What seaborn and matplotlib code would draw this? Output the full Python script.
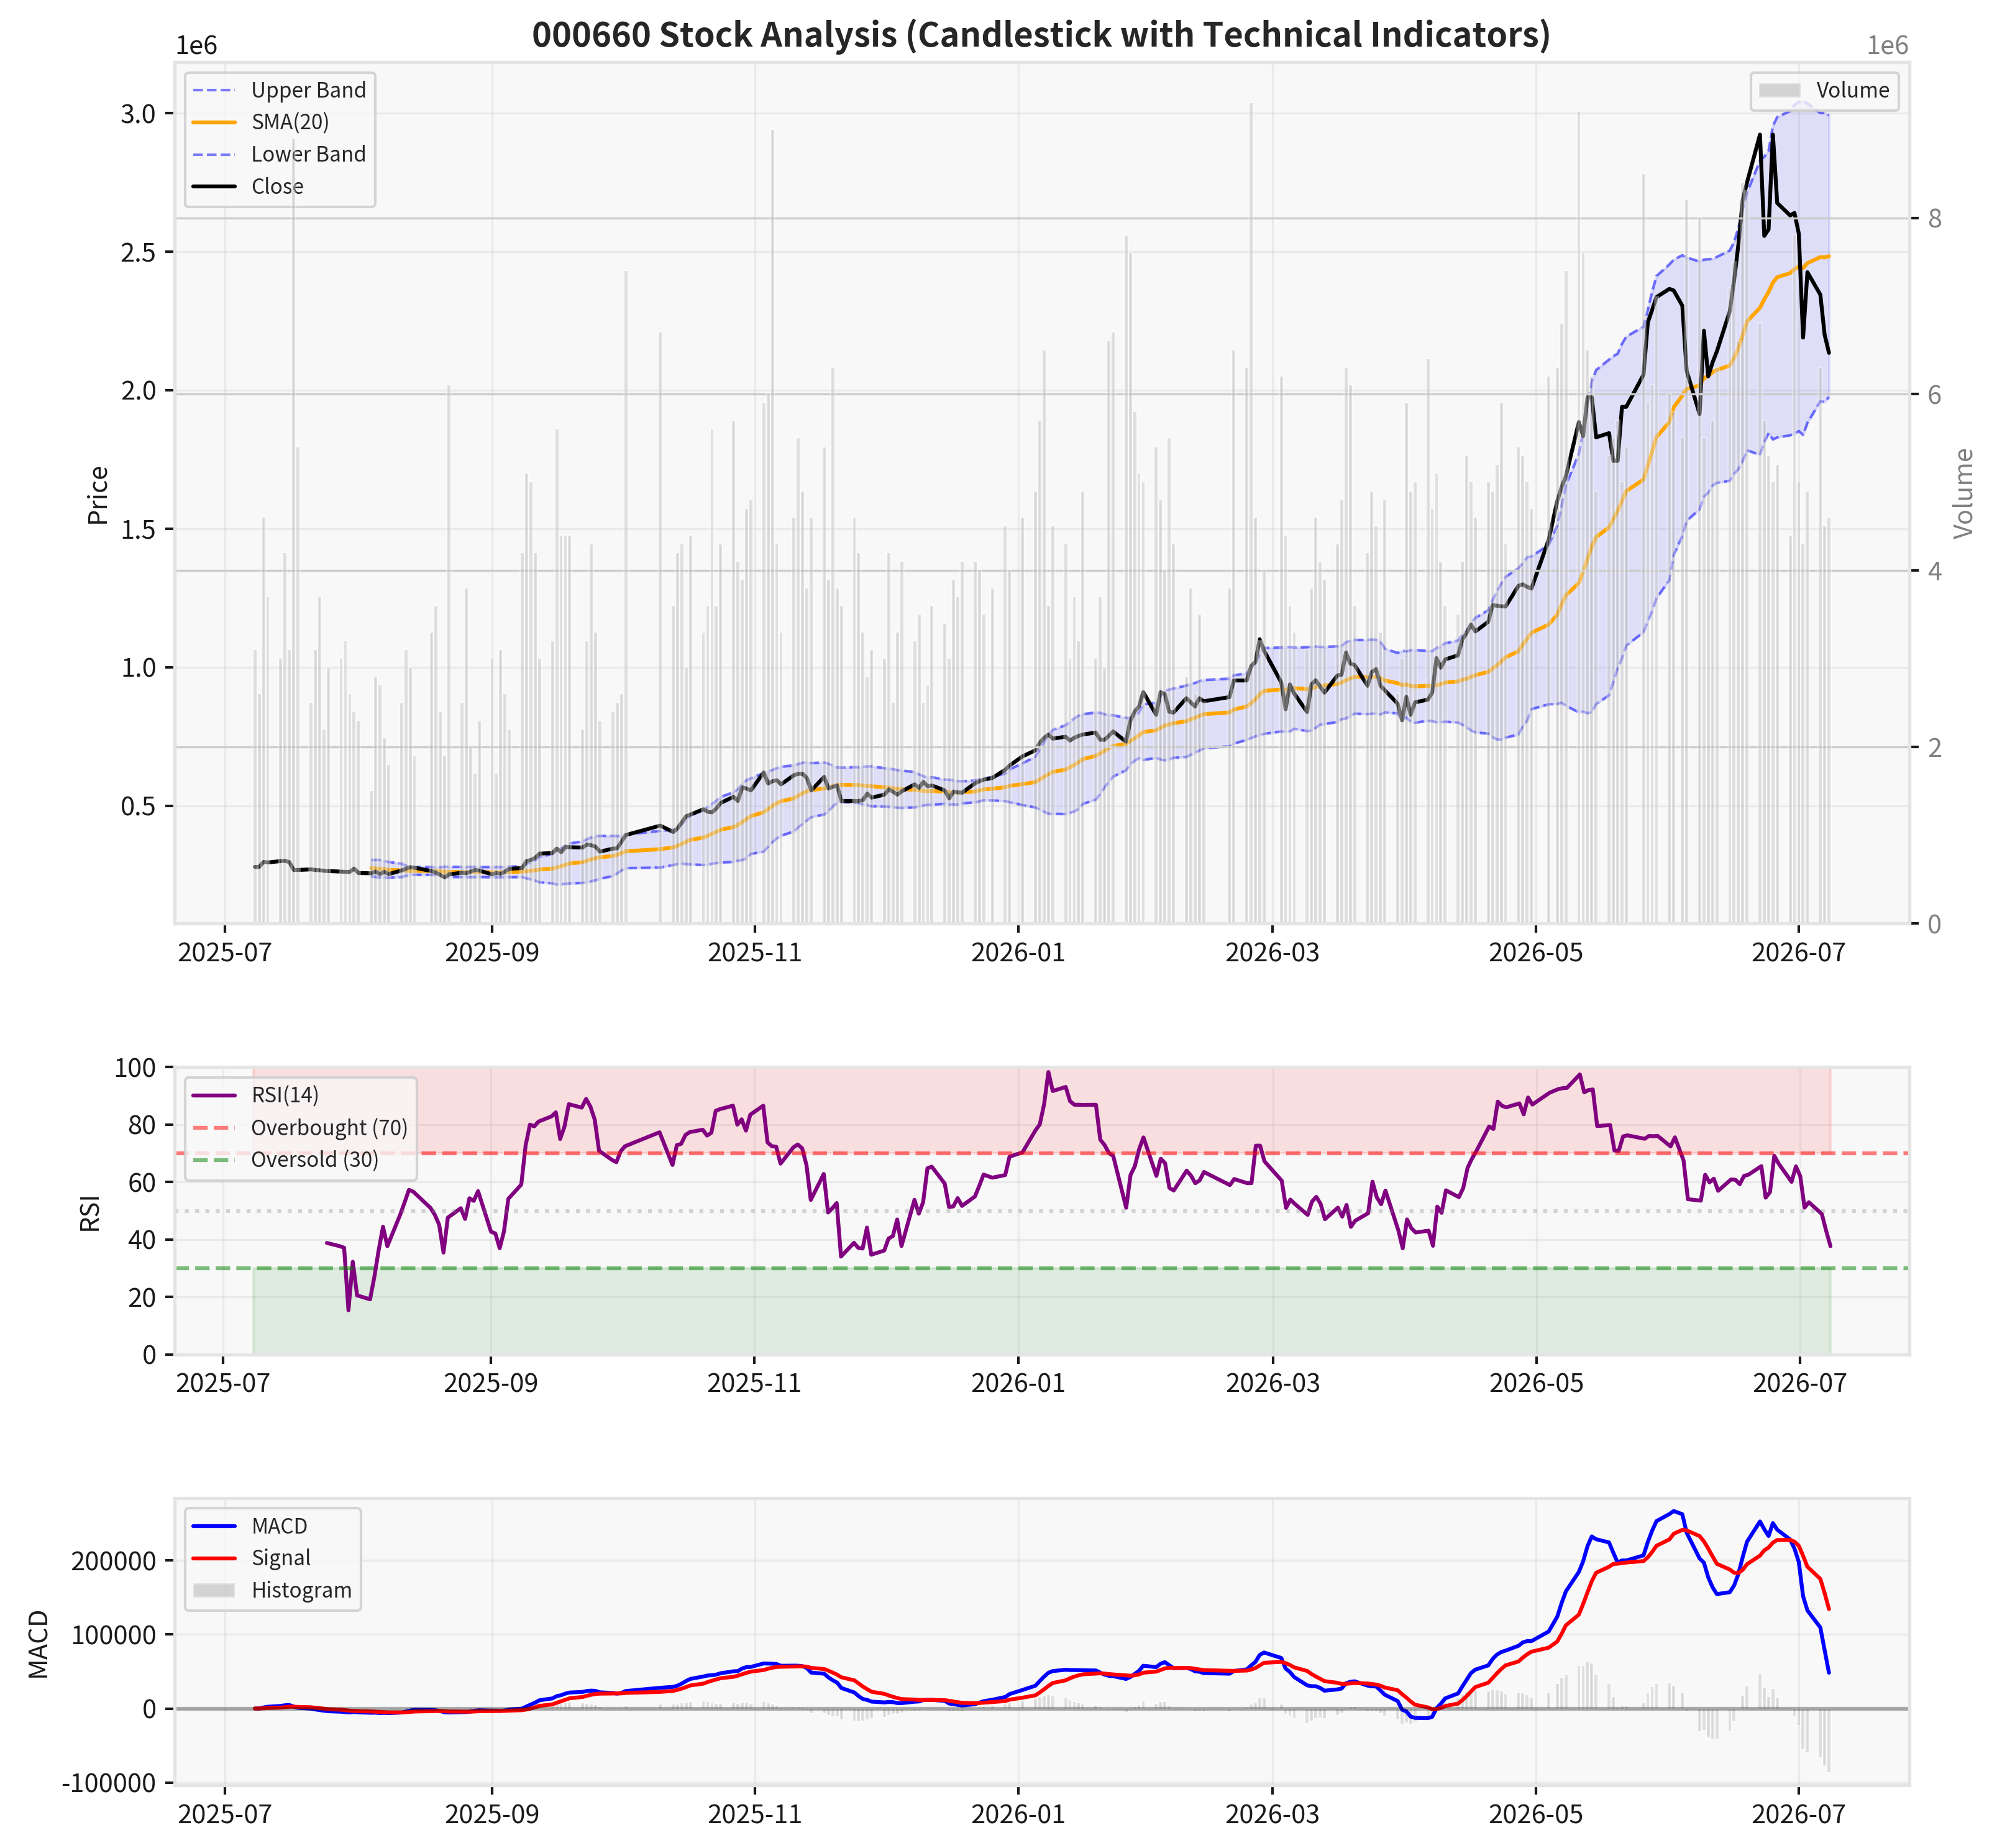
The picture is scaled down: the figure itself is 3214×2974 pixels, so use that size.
import numpy as np
import pandas as pd
import matplotlib
matplotlib.use("Agg")
import matplotlib.pyplot as plt
import matplotlib.dates as mdates
import seaborn as sns

TITLE = "000660 Stock Analysis (Candlestick with Technical Indicators)"
FIRST_DAY = "2025-07-08"
LAST_DAY = "2026-07-08"
KRX_HOLIDAYS = ["2025-08-15", "2025-10-03", "2025-10-06", "2025-10-07", "2025-10-08",
                "2025-10-09", "2025-12-25", "2025-12-31", "2026-01-01", "2026-02-16",
                "2026-02-17", "2026-02-18", "2026-03-02", "2026-05-01", "2026-05-05",
                "2026-05-25", "2026-06-03"]

# daily close, thousand KRW (one list per month)
close_jul25 = [279, 279, 297, 295, 300, 301, 296, 268, 268, 270, 268, 267, 265, 264, 262, 261, 261, 273]
close_aug25 = [257, 256, 262, 253, 261, 253, 266, 272, 278, 276, 264, 258, 250, 241, 252, 258, 256, 262, 268, 266]
close_sep25 = [252, 257, 254, 262, 272, 275, 300, 304, 312, 327, 329, 345, 332, 351, 350, 349, 360, 357, 352, 334, 345, 346]
close_oct25 = [370, 394, 428, 405, 418, 440, 462, 468, 487, 478, 476, 490, 510, 532, 517, 566, 562, 555]
close_nov25 = [620, 580, 588, 592, 577, 610, 615, 615, 600, 555, 604, 562, 568, 573, 517, 517, 517, 520, 544, 529]
close_dec25 = [540, 559, 550, 540, 552, 577, 564, 586, 570, 573, 555, 526, 551, 548, 547, 581, 588, 594, 600, 630, 645]
close_jan26 = [678, 700, 727, 745, 757, 742, 749, 735, 745, 752, 757, 764, 738, 738, 752, 768, 731, 806, 840, 858, 910]
close_feb26 = [828, 910, 903, 839, 836, 888, 873, 858, 888, 877, 892, 952, 952, 1004, 1019, 1101, 1060]
close_mar26 = [945, 848, 938, 905, 838, 938, 953, 930, 908, 970, 973, 1053, 1013, 1008, 933, 983, 993, 933, 917, 868, 808]
close_apr26 = [893, 828, 873, 883, 908, 1033, 998, 1028, 1043, 1100, 1124, 1154, 1129, 1164, 1224, 1222, 1220, 1219,
               1294, 1299, 1290, 1284]
close_may26 = [1460, 1600, 1650, 1690, 1885, 1834, 1975, 1975, 1830, 1845, 1745, 1745, 1940, 1940, 2056, 2245, 2290, 2336]
close_jun26 = [2366, 2360, 2305, 2070, 1914, 2215, 2050, 2100, 2140, 2285, 2396, 2526, 2687, 2750, 2923, 2557, 2581,
               2923, 2676, 2631, 2640]
close_jul26 = [2566, 2190, 2426, 2345, 2200, 2135]

# daily volume, million shares (one list per month)
vol_jul25 = [3.1, 2.6, 4.6, 3.7, 3.0, 4.2, 3.1, 8.9, 5.4, 2.5, 3.1, 3.7, 2.2, 2.9, 3.0, 3.2, 2.6, 2.4]
vol_aug25 = [2.3, 1.5, 2.8, 2.7, 2.1, 1.8, 2.5, 3.1, 2.9, 1.9, 3.3, 3.6, 2.4, 1.9, 6.1, 2.5, 3.8, 2.0, 1.7, 2.3]
vol_sep25 = [3.0, 1.7, 3.1, 2.6, 2.2, 4.2, 5.1, 5.0, 4.2, 3.0, 3.2, 5.6, 4.4, 4.4, 4.4, 2.2, 3.2, 4.3, 3.3, 2.3, 2.4, 2.5]
vol_oct25 = [2.6, 7.4, 6.7, 3.6, 4.2, 4.3, 2.9, 4.4, 3.3, 3.6, 5.6, 3.6, 4.3, 5.7, 4.1, 3.9, 4.7, 4.8]
vol_nov25 = [5.9, 6.0, 9.0, 4.3, 3.3, 4.6, 5.5, 4.9, 3.8, 4.6, 5.4, 3.9, 6.3, 3.8, 3.6, 4.6, 4.2, 3.3, 2.8, 3.1]
vol_dec25 = [3.0, 4.2, 2.5, 3.3, 4.1, 3.2, 3.5, 2.5, 2.7, 3.6, 3.4, 3.0, 3.9, 3.7, 4.1, 4.1, 4.0, 3.5, 3.8, 4.5, 4.0]
vol_jan26 = [4.6, 4.9, 5.7, 6.5, 3.6, 4.5, 4.3, 3.0, 3.7, 3.2, 4.9, 3.0, 3.7, 2.9, 6.6, 6.7, 7.8, 7.6, 5.8, 5.1, 5.0]
vol_feb26 = [5.4, 4.8, 4.0, 5.5, 4.3, 2.8, 3.8, 2.6, 3.5, 2.5, 3.8, 6.5, 6.3, 9.3, 4.6, 3.2, 4.0]
vol_mar26 = [6.2, 4.4, 3.6, 3.3, 3.1, 3.8, 4.6, 4.1, 3.9, 4.3, 4.8, 6.3, 6.1, 3.6, 4.2, 4.9, 4.5, 3.3, 4.8, 2.6, 3.0]
vol_apr26 = [5.9, 4.9, 5.0, 6.4, 4.7, 5.1, 4.1, 3.6, 3.5, 4.1, 5.3, 5.0, 4.6, 5.0, 4.9, 5.2, 5.9, 4.3, 5.4, 5.3, 5.0, 4.7]
vol_may26 = [6.2, 6.3, 6.8, 7.4, 9.2, 7.6, 6.5, 6.2, 4.9, 5.3, 5.5, 5.7, 5.0, 5.4, 8.5, 5.9, 6.1, 7.1]
vol_jun26 = [6.0, 5.8, 5.5, 8.2, 8.0, 5.5, 4.9, 5.7, 6.3, 7.2, 7.5, 6.6, 8.4, 8.3, 6.8, 5.7, 5.3, 5.0, 5.2, 4.4, 7.8]
vol_jul26 = [5.0, 4.3, 4.9, 6.3, 4.5, 4.6]

close_months = [close_jul25, close_aug25, close_sep25, close_oct25, close_nov25, close_dec25, close_jan26,
                close_feb26, close_mar26, close_apr26, close_may26, close_jun26, close_jul26]
vol_months = [vol_jul25, vol_aug25, vol_sep25, vol_oct25, vol_nov25, vol_dec25, vol_jan26,
              vol_feb26, vol_mar26, vol_apr26, vol_may26, vol_jun26, vol_jul26]

dates = pd.bdate_range(FIRST_DAY, LAST_DAY, freq="C", holidays=KRX_HOLIDAYS)
close = np.concatenate([np.array(m, float) for m in close_months]) * 1000
volume = np.concatenate([np.array(m, float) for m in vol_months]) * 1e6
n = min(len(dates), len(close), len(volume))
df = pd.DataFrame({"Date": dates[:n], "Close": close[:n], "Volume": volume[:n]})

# indicators
df["SMA"] = df["Close"].rolling(20).mean()
std20 = df["Close"].rolling(20).std()
df["Upper"] = df["SMA"] + 2 * std20
df["Lower"] = df["SMA"] - 2 * std20
delta = df["Close"].diff()
gain = delta.where(delta > 0, 0).rolling(14).mean()
loss = (-delta.where(delta < 0, 0)).rolling(14).mean()
df["RSI"] = 100 - 100 / (1 + gain / loss)
ema12 = df["Close"].ewm(span=12, adjust=False).mean()
ema26 = df["Close"].ewm(span=26, adjust=False).mean()
df["MACD"] = ema12 - ema26
df["Signal"] = df["MACD"].ewm(span=9, adjust=False).mean()
df["Hist"] = df["MACD"] - df["Signal"]

sns.set_theme(style="whitegrid")
plt.rcParams.update({
    "font.family": ["Noto Sans CJK KR", "DejaVu Sans"],
    "axes.unicode_minus": False,
    "axes.facecolor": "#f8f8f8",
    "axes.edgecolor": "#e4e4e4",
    "axes.linewidth": 1.25,
    "grid.color": "#cccccc",
    "grid.linewidth": 0.8,
    "xtick.bottom": True, "ytick.left": True,
    "xtick.major.size": 3.5, "ytick.major.size": 3.5,
    "xtick.major.width": 1.0, "ytick.major.width": 1.0,
    "xtick.color": "#1a1a1a", "ytick.color": "#1a1a1a",
    "xtick.labelsize": 10, "ytick.labelsize": 10,
    "axes.labelsize": 10, "axes.labelcolor": "#1a1a1a",
    "legend.fontsize": 8,
    "legend.edgecolor": "#cccccc",
})

fig = plt.figure(figsize=(3214 / 300, 2974 / 300), dpi=300)
gs = fig.add_gridspec(3, 1, height_ratios=[3, 1, 1], hspace=0.3,
                      left=0.0874, right=0.9561, top=0.9664, bottom=0.0340)
ax1 = fig.add_subplot(gs[0])
ax_rsi = fig.add_subplot(gs[1])
ax_macd = fig.add_subplot(gs[2])

# ---- price panel
sns.lineplot(data=df, x="Date", y="Upper", ax=ax1, color="blue", linestyle="--", alpha=0.5,
             linewidth=1, label="Upper Band", estimator=None)
sns.lineplot(data=df, x="Date", y="SMA", ax=ax1, color="orange", linewidth=1.5, label="SMA(20)", estimator=None)
sns.lineplot(data=df, x="Date", y="Lower", ax=ax1, color="blue", linestyle="--", alpha=0.5,
             linewidth=1, label="Lower Band", estimator=None)
ax1.fill_between(df["Date"], df["Lower"], df["Upper"], color="blue", alpha=0.1)
sns.lineplot(data=df, x="Date", y="Close", ax=ax1, color="black", linewidth=1.5, label="Close", estimator=None)
ax1.set_title(TITLE, fontsize=13, fontweight="bold")
ax1.set_ylabel("Price")
ax1.set_xlabel("")
ax1.grid(True, alpha=0.3)
ax1.legend(loc="upper left")

ax2 = ax1.twinx()
ax2.bar(df["Date"], df["Volume"], width=0.7, color="gray", alpha=0.3, label="Volume")
ax2.set_ylabel("Volume", color="gray")
ax2.tick_params(axis="y", labelcolor="gray")
ax2.grid(True, axis="y", color="#cccccc", linewidth=0.8)
ax2.legend(loc="upper right")

# ---- RSI panel
sns.lineplot(data=df, x="Date", y="RSI", ax=ax_rsi, color="purple", linewidth=1.5, label="RSI(14)", estimator=None)
ax_rsi.axhline(70, color="red", linestyle="--", alpha=0.5, linewidth=1.5, label="Overbought (70)")
ax_rsi.axhline(30, color="green", linestyle="--", alpha=0.5, linewidth=1.5, label="Oversold (30)")
ax_rsi.axhline(50, color="gray", linestyle=":", alpha=0.3, linewidth=1.5)
ax_rsi.fill_between(df["Date"], 70, 100, color="red", alpha=0.1)
ax_rsi.fill_between(df["Date"], 0, 30, color="green", alpha=0.1)
ax_rsi.set_ylim(0, 100)
ax_rsi.set_ylabel("RSI")
ax_rsi.set_xlabel("")
ax_rsi.grid(True, alpha=0.3)
ax_rsi.legend(loc="upper left")

# ---- MACD panel
sns.lineplot(data=df, x="Date", y="MACD", ax=ax_macd, color="blue", linewidth=1.5, label="MACD", estimator=None)
sns.lineplot(data=df, x="Date", y="Signal", ax=ax_macd, color="red", linewidth=1.5, label="Signal", estimator=None)
ax_macd.bar(df["Date"], df["Hist"], width=0.7, color="gray", alpha=0.3, label="Histogram")
ax_macd.axhline(0, color="black", linestyle="-", alpha=0.3, linewidth=1.5)
ax_macd.set_ylabel("MACD")
ax_macd.set_xlabel("")
ax_macd.grid(True, alpha=0.3)
ax_macd.legend(loc="upper left")

for ax in (ax1, ax_rsi, ax_macd):
    ax.xaxis.set_major_locator(mdates.MonthLocator(bymonth=[1, 3, 5, 7, 9, 11]))
    ax.xaxis.set_major_formatter(mdates.DateFormatter("%Y-%m"))

fig.savefig("out.png", dpi=300)
